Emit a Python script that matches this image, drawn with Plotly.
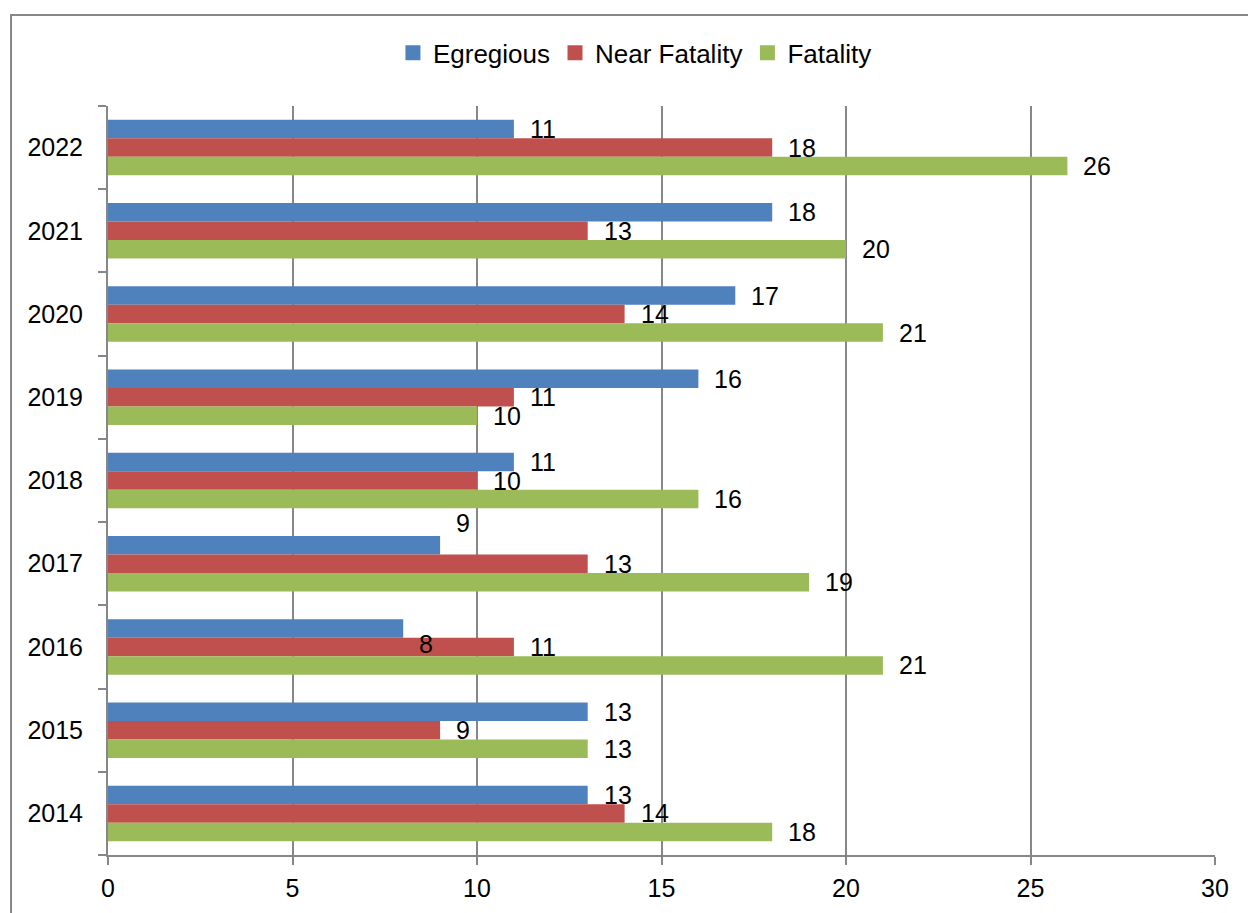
import plotly.graph_objects as go

# Yearly counts by incident type
years = [2014, 2015, 2016, 2017, 2018, 2019, 2020, 2021, 2022]
egregious = [13, 13, 8, 9, 11, 16, 17, 18, 11]
near_fatality = [14, 9, 11, 13, 10, 11, 14, 13, 18]
fatality = [18, 13, 21, 19, 16, 10, 21, 20, 26]
x_ticks = [0, 5, 10, 15, 20, 25, 30]

FONT = "Liberation Sans, Arial, sans-serif"
GREY = "#878787"

BAR_W = 0.2222
series = [
    ("Egregious", egregious, "#4F81BD", BAR_W / 2, BAR_W),
    ("Near Fatality", near_fatality, "#C0504D", -BAR_W / 2, 0.0),
    ("Fatality", fatality, "#9BBB59", -1.5 * BAR_W, -BAR_W),
]

fig = go.Figure()
annotations = []
for name, vals, color, offset, center in series:
    fig.add_trace(go.Bar(
        name=name, y=years, x=vals, orientation="h",
        marker=dict(color=color, line=dict(width=0)),
        width=BAR_W, offset=offset, showlegend=False,
    ))
    # square legend key
    fig.add_trace(go.Scatter(
        name=name, x=[None], y=[None], mode="markers",
        marker=dict(symbol="square", size=15, color=color),
        showlegend=True,
    ))
    for yr, v in zip(years, vals):
        yshift = 0
        # labels nudged to avoid collisions
        if name == "Egregious" and yr == 2017:
            yshift = 22
        if name == "Egregious" and yr == 2016:
            yshift = -16
        annotations.append(dict(
            x=v, y=yr + center, xref="x", yref="y", text=str(v),
            showarrow=False, xanchor="left", yanchor="middle",
            xshift=14, yshift=yshift,
            font=dict(family=FONT, size=25, color="black"),
        ))

fig.update_layout(
    width=1248, height=913,
    margin=dict(l=108, r=33, t=106, b=58, autoexpand=False),
    paper_bgcolor="white", plot_bgcolor="white",
    barmode="overlay",
    showlegend=True,
    legend=dict(
        orientation="h", x=0.476, xanchor="center", y=1.0708, yanchor="middle",
        font=dict(family=FONT, size=26, color="black"),
        traceorder="normal", itemclick=False, bgcolor="rgba(0,0,0,0)",
        itemwidth=30,
    ),
    annotations=annotations,
    shapes=[dict(
        type="rect", xref="paper", yref="paper",
        x0=-0.0876, x1=1.2, y0=-0.3, y1=1.1215,
        line=dict(color=GREY, width=2), fillcolor="rgba(0,0,0,0)", layer="below",
    )],
)

fig.update_xaxes(
    range=[0, 30], tickvals=x_ticks, ticktext=[str(t) for t in x_ticks],
    showgrid=True, gridcolor=GREY, gridwidth=1.5,
    showline=True, linecolor=GREY, linewidth=2,
    ticks="outside", ticklen=8, tickcolor=GREY, tickwidth=2,
    ticklabelstandoff=2, automargin=False,
    tickfont=dict(family=FONT, size=25, color="black"),
    zeroline=False, fixedrange=True,
)

fig.update_yaxes(
    range=[years[0] - 0.5, years[-1] + 0.5],
    tickvals=years, ticktext=[str(y) for y in years],
    ticks="", showgrid=False, zeroline=False,
    showline=True, linecolor=GREY, linewidth=2,
    ticklabelstandoff=18, automargin=False,
    tickfont=dict(family=FONT, size=25, color="black"),
    minor=dict(
        tickvals=[y - 0.5 for y in years] + [years[-1] + 0.5],
        ticks="outside", ticklen=8, tickcolor=GREY, tickwidth=2, showgrid=False,
    ),
    fixedrange=True,
)

fig.write_html("out.html")
